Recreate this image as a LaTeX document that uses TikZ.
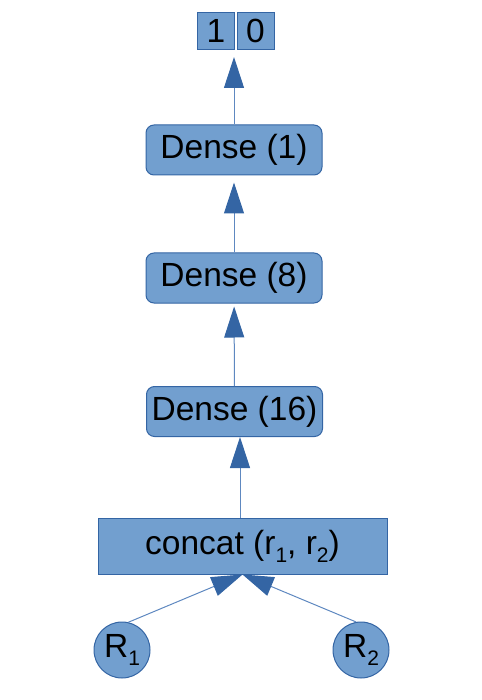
\documentclass[tikz,border=0pt]{standalone}
\usepackage{fontspec}
\setmainfont{Liberation Sans}
\usetikzlibrary{arrows.meta}

\definecolor{boxfill}{HTML}{729FCF}
\definecolor{boxline}{HTML}{3465A4}
\definecolor{flowline}{HTML}{5E88C0}

% lowered index as in the drawing
\newcommand{\lowidx}[1]{\raisebox{-8pt}{\fontsize{21}{21}\selectfont #1}}

\begin{document}
\begin{tikzpicture}[x=1pt, y=-1pt,
    bigfont/.style={font=\fontsize{33.5}{40}\selectfont},
    layer/.style={bigfont, draw=boxline, fill=boxfill, line width=1pt,
        rounded corners=8pt, minimum width=176pt, minimum height=50pt, inner sep=0pt},
    merge/.style={bigfont, draw=boxline, fill=boxfill, line width=1pt,
        minimum width=289pt, minimum height=56pt, inner sep=0pt},
    outcell/.style={bigfont, draw=boxline, fill=boxfill, line width=1pt,
        minimum size=37pt, inner sep=0pt},
    inputnode/.style={bigfont, circle, draw=boxline, fill=boxfill, line width=1pt,
        minimum size=56pt, inner sep=0pt},
    flow/.style={draw=flowline, line width=1pt,
        -{Triangle[length=31pt, width=20pt, fill=boxline, color=boxline]}}
]
    \useasboundingbox (0,0) rectangle (481,700);

    % Output cells
    \node[outcell] (out1) at (216,31) {1};
    \node[outcell] (out0) at (255.5,31) {0};

    % Dense layers
    \node[layer] (d1) at (234,150) {Dense (1)};
    \node[layer] (d8) at (234,278) {Dense (8)};
    \node[layer] (d16) at (234.5,411.5) {Dense (16)};

    % Concatenation
    \node[merge] (concat) at (242.5,546) {concat (r\lowidx{1}, r\lowidx{2})};

    % Inputs
    \node[inputnode] (r1) at (122,650) {R\lowidx{1}};
    \node[inputnode] (r2) at (361,650) {R\lowidx{2}};

    % Connections
    \draw[flow, shorten >=7pt] (d1.north) -- (d1.north |- out1.south);
    \draw[flow, shorten >=7pt] (d8) -- (d1);
    \draw[flow, shorten >=3pt] (d16) -- (d8);
    \draw[flow] (concat.north -| 240,0) -- (d16.south -| 240,0);
    \draw[flow] (r1.77) -- (concat.south);
    \draw[flow] (r2.100) -- (concat.south);
\end{tikzpicture}
\end{document}
